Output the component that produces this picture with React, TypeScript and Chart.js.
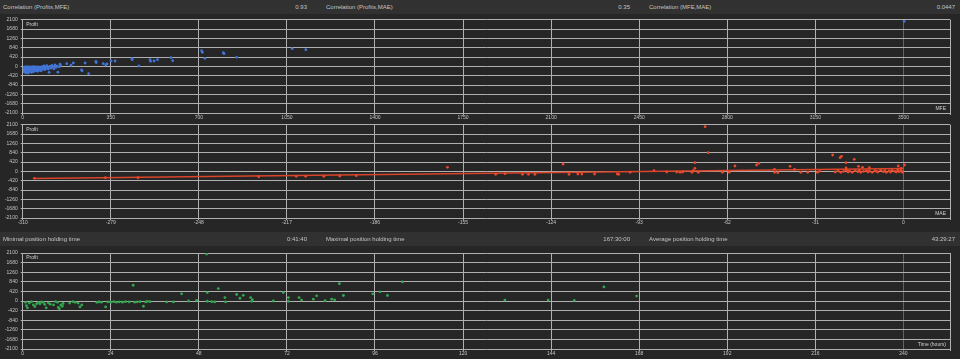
import React, { useEffect, useRef } from "react";
import { Chart, registerables } from "chart.js";
Chart.register(...registerables);

// ---------- data ----------
const profitTicks = [-2100, -1680, -1260, -840, -420, 0, 420, 840, 1260, 1680, 2100];
const mfeTicks = [0, 350, 700, 1050, 1400, 1750, 2100, 2450, 2800, 3150, 3500];
const maeTicks = [-310, -279, -248, -217, -186, -155, -124, -93, -62, -31, 0];
const timeTicks = [0, 24, 48, 72, 96, 120, 144, 168, 192, 216, 240];
const mfeAxisMax = 3685;
const maeAxisMax = 16.4;
const timeAxisMax = 252.7;

const headerTop = [
  ["Correlation (Profits,MFE)", "0.93"],
  ["Correlation (Profits,MAE)", "0.35"],
  ["Correlation (MFE,MAE)", "0.0447"],
];
const headerBottom = [
  ["Minimal position holding time", "0:41:40"],
  ["Maximal position holding time", "167:30:00"],
  ["Average position holding time", "43:29:27"],
];

// Profit vs MFE
const mfeProfit: [number, number][] = [
  [3, -60], [5, -150], [6, -250], [8, -20], [9, -110], [10, -200], [12, -290], [13, -40], [14, -160], [15, -80],
  [17, -230], [18, -10], [19, -130], [21, -300], [22, -70], [23, -180], [25, -40], [26, -250], [27, -120], [29, -20],
  [30, -90], [31, -210], [33, -150], [34, -60], [35, -270], [37, -30], [38, -110], [40, -190], [41, -70], [43, -240],
  [44, -10], [46, -140], [47, -50], [49, -200], [50, -90], [52, -30], [54, -160], [55, -110], [57, -60], [59, -220],
  [60, -20], [62, -130], [64, -80], [66, -180], [68, -40], [70, -100], [73, -200], [75, -60], [77, -10], [80, -130],
  [82, -80], [85, 20], [88, -150], [90, -40], [93, -100], [96, 30], [99, -60], [102, -120], [105, -270], [108, 0],
  [112, -80], [116, 40], [120, -30], [124, -110], [128, 60], [132, -50], [136, 10], [140, -260], [145, -20], [148, 100],
  [150, 40], [175, 120], [192, 50], [201, 150], [234, -165], [236, -200], [248, 150], [262, -330], [291, 225], [292, 170],
  [320, 120], [330, 70], [335, 110], [351, 240], [367, 240], [434, 345], [435, 300], [462, 15], [506, 300], [508, 225],
  [522, 240], [536, 300], [589, 390], [596, 255], [711, 705], [714, 630], [724, 360], [797, 615], [800, 570], [850, 405],
  [1071, 795], [1125, 750], [3503, 2025],
];

// Profit vs MAE
const maeProfit: [number, number][] = [
  [-305.9, -315], [-280.9, -288], [-269.4, -288], [-226.9, -243], [-213.7, -225], [-210.4, -225], [-204, -225],
  [-198.4, -210], [-192.6, -195], [-160.5, 180], [-143.5, -135], [-140.2, -105], [-134.1, -135], [-132, -135],
  [-129.7, -135], [-119.8, 330], [-117.7, -135], [-114.6, -120], [-113.2, -120], [-108.7, -120], [-100.7, -120],
  [-100.2, -135], [-96.2, -45], [-87.8, 30], [-83.3, -30], [-79.8, -30], [-78.6, -45], [-77.7, -30], [-74.4, -45],
  [-74, 30], [-73.4, 135], [-73.4, 390], [-72.2, -45], [-69.8, 2010], [-68.7, 840], [-63.7, -45], [-61.3, -45],
  [-59.3, 240], [-51.7, 285], [-50.9, 360], [-45.4, 90], [-45.3, -45], [-44.2, -60], [-39.9, 225], [-38.3, 90],
  [-36.1, -45], [-33.7, -45], [-30.3, -45], [-29.5, 0], [-24.9, 735], [-22.3, 615], [-21.8, 675], [-20.2, 390],
  [-20.2, 150], [-17.3, 540], [-15.8, 225], [-14.4, 180], [-12, 165],
  [-24, -30], [-23, 20], [-22, -45], [-21, 0], [-20, 45], [-19.5, -30], [-19, 15], [-18, -45], [-17, 30], [-16, -15],
  [-15.5, 45], [-15, -45], [-14, 0], [-13, 30], [-12.5, -30], [-12, 15], [-11, -45], [-10, 30], [-9.5, 0], [-9, -30],
  [-8, 45], [-7, -15], [-6.5, 30], [-6, -45], [-5, 15], [-4.5, -30], [-4, 45], [-3, 0], [-2.5, -30], [-2, 60],
  [-1.5, -15], [-1, 30], [-0.5, 0], [-0.3, -45], [-1.8, 240], [-0.8, 135], [0.4, 285],
];
const maeTrend: [number, number][] = [[-306, -320], [0, 125]];

// Profit vs holding time (hours)
const timeProfit: [number, number][] = [
  [0.8, -60], [1.0, -200], [1.3, -300], [1.8, -90], [2.4, -30], [2.9, -170], [3.3, -240], [3.8, -120], [4.3, -60],
  [4.7, -120], [5.2, -40], [5.6, -60], [6.0, -150], [6.4, -300], [7.0, -80], [7.5, -140], [8.4, -170], [9.0, -30],
  [9.5, -60], [9.7, -280], [10.0, -340], [10.4, -170], [10.8, -230], [11.0, -110], [12.8, -90], [13.7, -30],
  [14.3, -60], [15.1, -90], [15.6, -260], [16.1, -170],
  [20.2, -60], [20.8, -40], [21.5, -50], [22.6, -260], [23.2, -40], [24.0, -50], [24.8, -30], [25.5, -50],
  [26.3, -40], [27.2, -50], [28.0, -30], [29.0, -40], [30.1, 690], [30.5, -50], [31.2, -40], [32.0, -30],
  [32.9, -230], [33.5, -40], [34.0, -20], [34.7, -30],
  [39.2, -40], [41.1, -40], [43.3, 315], [45.2, 0], [47.4, 30], [50.1, 2055], [50.3, 370], [50.3, -10], [51.5, -30],
  [52.3, -40], [53.3, 545], [55.1, 150], [55.3, -40], [58.3, 285], [59.2, 120], [60.1, 250], [62.1, 150],
  [62.4, -10], [62.6, 60], [68.3, 0], [71.0, 370], [72.4, 150], [72.4, -10], [75.3, 150], [76.0, 40], [79.2, 80],
  [80.1, 225], [82.4, 15], [84.2, 80], [85.0, 50], [86.3, 760], [87.4, 240], [95.4, 315], [97.4, 400], [99.4, 240],
  [103.5, 835], [131.4, 40], [143.2, 40], [150.3, 25], [158.4, 615], [167.3, 215],
];

// ---------- styling ----------
const BG = "#262626";
const BAND = "#313131";
const TEXT = "#c4c4c4";
const GRID = "#b0b0b0";
const GRID_DIM = "rgba(176,176,176,0.45)";
const FONT = "'Liberation Sans', Arial, sans-serif";

const toXY = (arr: [number, number][]) => arr.map(([x, y]) => ({ x, y }));

function cornerPlugin(yLabel: string, xLabel: string) {
  return {
    id: "corner-" + xLabel,
    afterDraw(chart: any) {
      const { ctx, chartArea: a } = chart;
      ctx.save();
      ctx.font = `5px ${FONT}`;
      ctx.fillStyle = "#d0d0d0";
      ctx.textBaseline = "middle";
      ctx.textAlign = "left";
      ctx.fillText(yLabel, a.left + 3.5, a.top + 4.5);
      ctx.textAlign = "right";
      ctx.fillText(xLabel, a.right - 4, a.bottom - 4.5);
      ctx.restore();
    },
  };
}

function makeConfig(
  datasets: any[],
  xTicks: number[],
  xMin: number,
  xMax: number,
  padTop: number,
  xHeight: number,
  xLabel: string
) {
  return {
    type: "scatter",
    data: { datasets },
    options: {
      responsive: false,
      animation: false,
      devicePixelRatio: 1,
      layout: { padding: { top: padTop, right: 10, left: 0, bottom: 0 } },
      plugins: { legend: { display: false }, tooltip: { enabled: false } },
      scales: {
        x: {
          type: "linear",
          min: xMin,
          max: xMax,
          afterBuildTicks: (s: any) => {
            s.ticks = [...xTicks, xMax].map((v) => ({ value: v }));
          },
          afterFit: (s: any) => {
            s.height = xHeight;
          },
          border: { display: false },
          grid: {
            drawTicks: true,
            tickLength: 2,
            lineWidth: 1,
            color: (c: any) => (c.index === xTicks.length - 1 ? GRID_DIM : GRID),
          },
          ticks: {
            autoSkip: false,
            maxRotation: 0,
            padding: 0,
            color: TEXT,
            font: { family: FONT, size: 5 },
            callback: (v: any, i: number) => (i < xTicks.length ? String(xTicks[i]) : ""),
          },
        },
        y: {
          type: "linear",
          min: -2100,
          max: 2100,
          afterBuildTicks: (s: any) => {
            s.ticks = profitTicks.map((v) => ({ value: v }));
          },
          afterFit: (s: any) => {
            s.width = 22.7;
          },
          border: { display: false },
          grid: { drawTicks: true, tickLength: 2, lineWidth: 1, color: GRID },
          ticks: {
            padding: 3,
            color: TEXT,
            font: { family: FONT, size: 5 },
            callback: (v: any) => String(v),
          },
        },
      },
    },
    plugins: [cornerPlugin("Profit", xLabel)],
  };
}

function ChartCanvas({ config, top, height }: { config: any; top: number; height: number }) {
  const ref = useRef<HTMLCanvasElement | null>(null);
  useEffect(() => {
    if (!ref.current) return;
    const chart = new Chart(ref.current, config);
    return () => chart.destroy();
  }, [config]);
  return (
    <canvas
      ref={ref}
      width={960}
      height={height}
      style={{ position: "absolute", left: 0, top, width: 960, height, display: "block" }}
    />
  );
}

function Header({ items, top }: { items: string[][]; top: number }) {
  const labelX = [3, 326, 649];
  const valueRight = [307, 630, 955];
  return (
    <div style={{ position: "absolute", left: 0, top, width: 960, height: 14, background: BAND }}>
      {items.map(([label, value], i) => (
        <React.Fragment key={i}>
          <div
            style={{
              position: "absolute",
              left: labelX[i],
              top: 0,
              height: 14,
              lineHeight: "14px",
              fontSize: 6,
              fontFamily: FONT,
              color: TEXT,
              whiteSpace: "nowrap",
            }}
          >
            {label}
          </div>
          <div
            style={{
              position: "absolute",
              right: 960 - valueRight[i],
              top: 0,
              height: 14,
              lineHeight: "14px",
              fontSize: 6,
              fontFamily: FONT,
              color: TEXT,
              whiteSpace: "nowrap",
            }}
          >
            {value}
          </div>
        </React.Fragment>
      ))}
    </div>
  );
}

const pointStyle = (color: string) => ({
  backgroundColor: color,
  borderWidth: 0,
  pointRadius: 1.4,
  pointHoverRadius: 1.4,
});

const topConfig = makeConfig(
  [{ data: toXY(mfeProfit), ...pointStyle("#4174d6") }],
  mfeTicks,
  0,
  mfeAxisMax,
  6.7,
  10,
  "MFE"
);
const midConfig = makeConfig(
  [
    { data: toXY(maeProfit), ...pointStyle("#e8482c") },
    {
      data: toXY(maeTrend),
      showLine: true,
      borderColor: "#d9452a",
      borderWidth: 1.6,
      pointRadius: 0,
      backgroundColor: "#d9452a",
    },
  ],
  maeTicks,
  -310,
  maeAxisMax,
  6.7,
  12,
  "MAE"
);
const botConfig = makeConfig(
  [{ data: toXY(timeProfit), ...pointStyle("#33a650") }],
  timeTicks,
  0,
  timeAxisMax,
  4.7,
  10,
  "Time (hours)"
);

export default function App() {
  return (
    <div
      style={{
        position: "absolute",
        left: 0,
        top: 0,
        width: 960,
        height: 359,
        background: BG,
        overflow: "hidden",
      }}
    >
      <Header items={headerTop} top={0} />
      <ChartCanvas config={topConfig} top={13} height={110} />
      <ChartCanvas config={midConfig} top={118} height={112} />
      <Header items={headerBottom} top={232} />
      <ChartCanvas config={botConfig} top={247} height={112} />
    </div>
  );
}
